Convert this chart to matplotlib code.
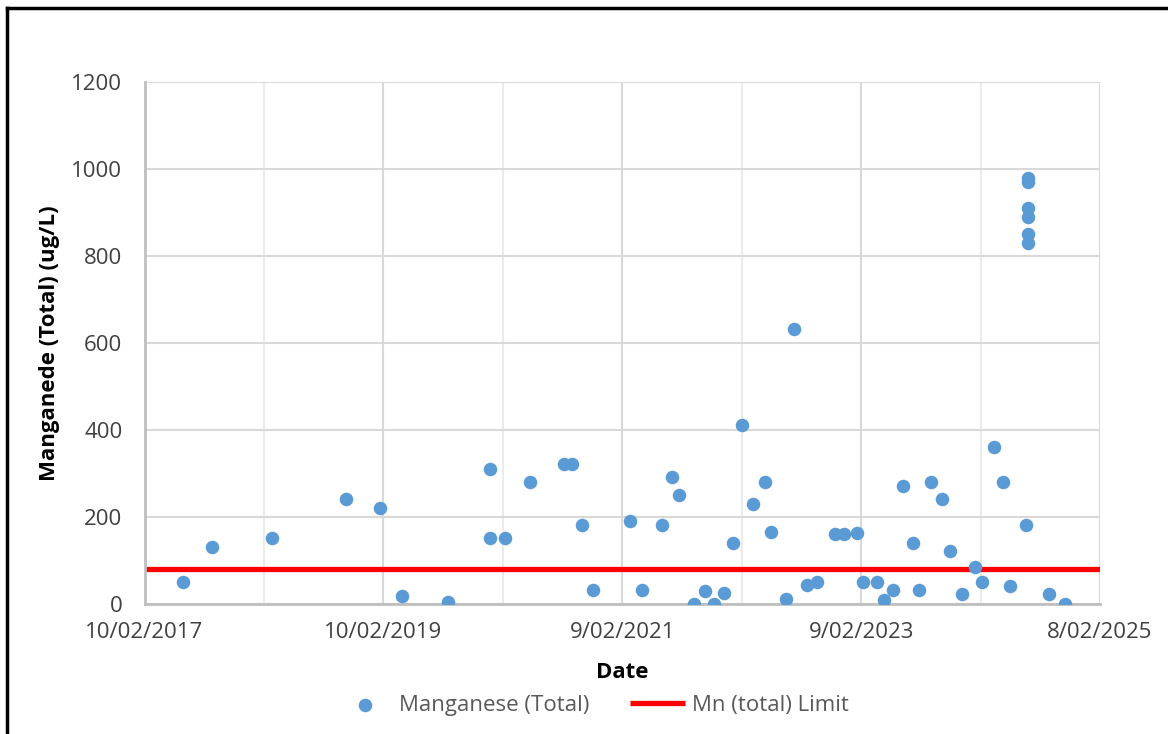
import numpy as np
import matplotlib
matplotlib.use("Agg")
import matplotlib.pyplot as plt
import matplotlib.dates as mdates
from matplotlib.lines import Line2D
from datetime import date

plt.rcParams['font.family'] = ['Open Sans', 'DejaVu Sans']

# sample dates and manganese results
sample_dates = [
    "2017-06-09", "2017-09-03", "2018-03-06", "2018-10-20", "2019-01-30",
    "2019-04-09", "2019-08-26", "2020-01-02", "2020-01-02", "2020-02-17",
    "2020-05-04", "2020-08-16", "2020-09-08", "2020-10-10", "2020-11-11",
    "2021-03-05", "2021-04-10", "2021-06-10", "2021-07-10", "2021-08-02",
    "2021-09-17", "2021-10-20", "2021-11-17", "2021-12-16", "2022-01-12",
    "2022-02-11", "2022-03-15", "2022-04-20", "2022-05-10", "2022-06-24",
    "2022-07-19", "2022-08-27", "2022-09-27", "2022-11-22", "2022-12-18",
    "2023-01-27", "2023-02-16", "2023-03-30", "2023-04-19", "2023-05-16",
    "2023-06-18", "2023-07-17", "2023-08-06", "2023-09-11", "2023-10-14",
    "2023-11-08", "2023-12-14", "2024-01-24", "2024-02-13", "2024-03-21",
    "2024-04-18", "2024-05-09", "2024-06-27", "2024-07-04", "2024-07-04",
    "2024-07-04", "2024-07-04", "2024-07-04", "2024-07-04", "2024-09-05",
    "2024-10-23",
]
manganese = [
    50, 130, 150, 240, 220,
    18, 4, 310, 150, 150,
    280, 320, 320, 180, 30,
    190, 32, 180, 290, 250,
    0, 28, 0, 25, 140,
    410, 230, 280, 165, 10,
    632, 42, 50, 160, 160,
    163, 50, 50, 7, 30,
    270, 140, 30, 280, 240,
    120, 22, 85, 50, 360,
    280, 40, 180, 980, 970,
    910, 890, 850, 830, 22,
    0,
]
mn_limit = 80

x_start = date(2017, 2, 10)
x_end = date(2025, 2, 8)
major_ticks = [date(2017, 2, 10), date(2019, 2, 10), date(2021, 2, 9),
               date(2023, 2, 9), date(2025, 2, 8)]
minor_ticks = [date(2018, 2, 10), date(2020, 2, 10), date(2022, 2, 9),
               date(2024, 2, 9)]
y_ticks = [0, 200, 400, 600, 800, 1000, 1200]

dates = np.array(sample_dates, dtype="datetime64[D]").astype(object)

W, H = 1168, 734
fig = plt.figure(figsize=(W / 100, H / 100), dpi=100)
ax = fig.add_axes([144.5 / W, 1 - 603.5 / H, (1100 - 144.5) / W, (603.5 - 82) / H])

ax.scatter(dates, manganese, s=95, color="#5B9BD5", zorder=3,
           linewidths=0, label="Manganese (Total)")
ax.plot([x_start, x_end], [mn_limit, mn_limit], color="#FF0000", lw=3.8,
        zorder=2, label="Mn (total) Limit", solid_capstyle="butt")

ax.set_xlim(x_start, x_end)
ax.set_ylim(0, 1200)
ax.set_yticks(y_ticks)
ax.set_xticks(major_ticks)
ax.set_xticks(minor_ticks, minor=True)
ax.xaxis.set_major_formatter(plt.FuncFormatter(
    lambda v, p: (lambda d: f"{d.day}/{d.month:02d}/{d.year}")(mdates.num2date(v))))

ax.grid(True, which="major", axis="both", color="#D9D9D9", lw=1.5, zorder=0)
ax.grid(True, which="minor", axis="x", color="#EBEBEB", lw=1.5, zorder=0)
ax.tick_params(axis="both", which="both", length=0, labelsize=16,
               labelcolor="#404040")
ax.tick_params(axis="x", pad=13)
ax.tick_params(axis="y", pad=16)
for side in ["top", "right"]:
    ax.spines[side].set_visible(False)
for side in ["left", "bottom"]:
    ax.spines[side].set_color("#BFBFBF")
    ax.spines[side].set_linewidth(2)

ax.set_xlabel("Date", fontsize=16, fontweight="bold", labelpad=14)
ax.set_ylabel("Manganede (Total) (ug/L)", fontsize=16, fontweight="bold")
ax.yaxis.set_label_coords((60 - 144.5) / (1100 - 144.5), 0.5)

leg = fig.legend(loc="center", bbox_to_anchor=(593 / W, 1 - 705 / H), ncol=2,
                 frameon=False, fontsize=16, handlelength=2.5,
                 columnspacing=1.8, handletextpad=0.3)
for t in leg.get_texts():
    t.set_color("#595959")

# outer frame of the exported chart
fig.add_artist(Line2D([7 / W, 7 / W], [0, 1 - 8 / H], color="black", lw=2.5))
fig.add_artist(Line2D([7 / W, 1], [1 - 8 / H, 1 - 8 / H], color="black", lw=2.5))

fig.savefig("out.png", dpi=100)
